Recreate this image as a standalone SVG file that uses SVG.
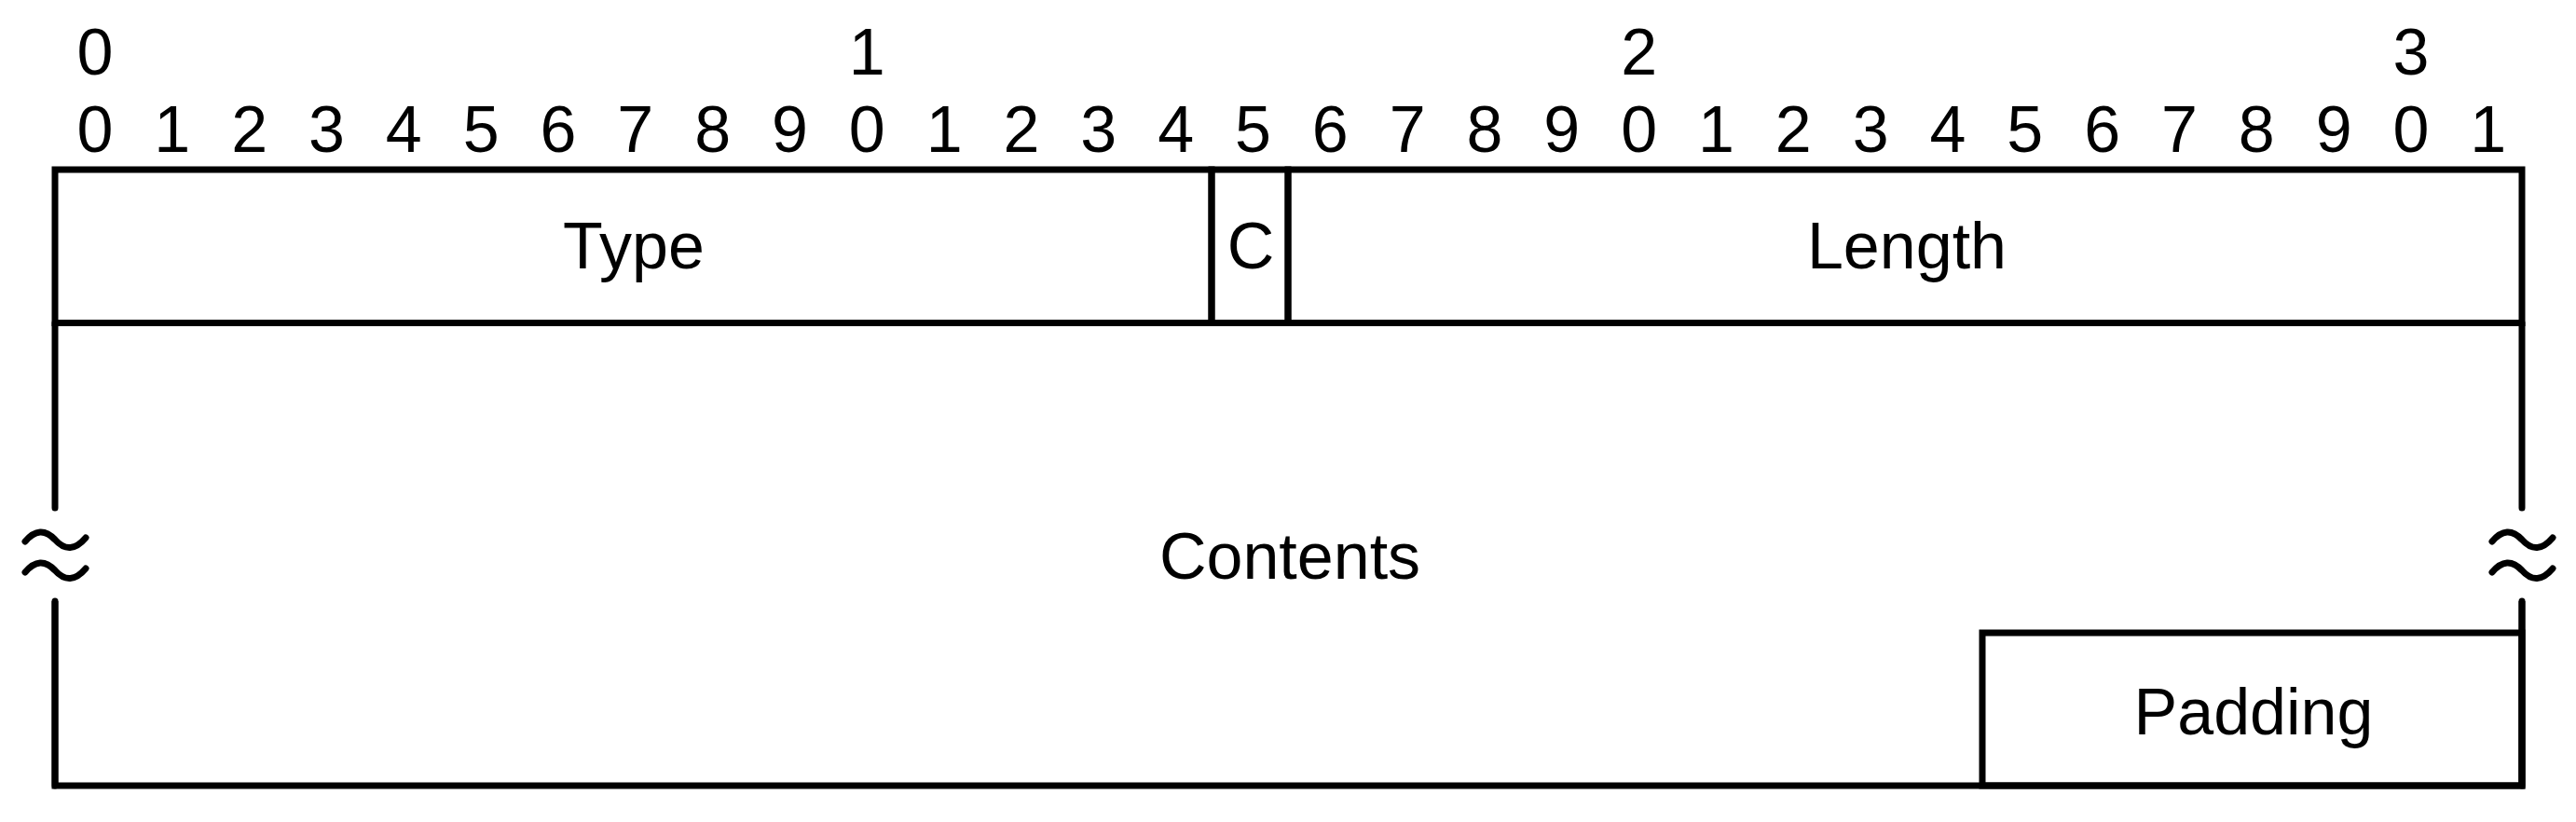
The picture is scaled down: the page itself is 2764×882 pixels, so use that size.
<svg xmlns="http://www.w3.org/2000/svg" width="2764" height="882" viewBox="0 0 2764 882">
<style>
  .ln{fill:none;stroke:#000;stroke-width:7;stroke-linecap:round;stroke-linejoin:miter}
  .bx{fill:none;stroke:#000;stroke-width:7;stroke-linejoin:miter}
  text{font-family:"Liberation Sans",Arial,sans-serif;font-size:70px;fill:#000;text-anchor:middle}
</style>
<rect width="2764" height="882" fill="#fff"/>
<g id="ruler">
  <text x="102" y="80">0</text>
  <text x="930.3" y="80">1</text>
  <text x="1758.6" y="80">2</text>
  <text x="2586.9" y="80">3</text>
  <text x="102" y="163">0</text>
  <text x="184.8" y="163">1</text>
  <text x="267.7" y="163">2</text>
  <text x="350.5" y="163">3</text>
  <text x="433.3" y="163">4</text>
  <text x="516.2" y="163">5</text>
  <text x="599" y="163">6</text>
  <text x="681.8" y="163">7</text>
  <text x="764.6" y="163">8</text>
  <text x="847.5" y="163">9</text>
  <text x="930.3" y="163">0</text>
  <text x="1013.1" y="163">1</text>
  <text x="1096" y="163">2</text>
  <text x="1178.8" y="163">3</text>
  <text x="1261.6" y="163">4</text>
  <text x="1344.5" y="163">5</text>
  <text x="1427.3" y="163">6</text>
  <text x="1510.1" y="163">7</text>
  <text x="1592.9" y="163">8</text>
  <text x="1675.8" y="163">9</text>
  <text x="1758.6" y="163">0</text>
  <text x="1841.4" y="163">1</text>
  <text x="1924.3" y="163">2</text>
  <text x="2007.1" y="163">3</text>
  <text x="2089.9" y="163">4</text>
  <text x="2172.8" y="163">5</text>
  <text x="2255.6" y="163">6</text>
  <text x="2338.4" y="163">7</text>
  <text x="2421.2" y="163">8</text>
  <text x="2504.1" y="163">9</text>
  <text x="2586.9" y="163">0</text>
  <text x="2669.7" y="163">1</text>
</g>
<g id="field-type">
  <rect class="bx" x="59" y="182" width="1241" height="164.5"/>
  <text x="680" y="288">Type</text>
</g>
<g id="field-c">
  <rect class="bx" x="1300" y="182" width="82" height="164.5"/>
  <text x="1342" y="288">C</text>
</g>
<g id="field-length">
  <rect class="bx" x="1382" y="182" width="1324" height="164.5"/>
  <text x="2046" y="288">Length</text>
</g>
<g id="field-contents">
  <path class="ln" d="M59,545 L59,346.5 M2706,346.5 L2706,545"/>
  <path class="bx" d="M59,645 L59,843 L2706,843 L2706,645"/>
  <path class="ln" d="M2706,843 L2706,645"/>
  <path class="ln" d="M59,843 L59,645"/>
  <path class="ln" d="M27,581 Q43,562 59,579 Q75,597 92,577"/>
  <path class="ln" d="M27,614 Q43,595 59,612 Q75,630 92,610"/>
  <path class="ln" d="M2674,581 Q2690,562 2706,579 Q2722,597 2739,577"/>
  <path class="ln" d="M2674,614 Q2690,595 2706,612 Q2722,630 2739,610"/>
  <text x="1384" y="621">Contents</text>
</g>
<g id="field-padding">
  <rect class="bx" x="2127" y="679" width="579" height="164"/>
  <text x="2418" y="788">Padding</text>
</g>
<g id="connectors"></g>
</svg>
